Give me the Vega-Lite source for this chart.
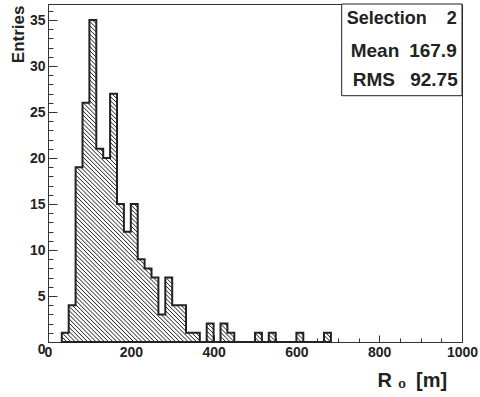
{
  "$schema": "https://vega.github.io/schema/vega-lite/v6.json",
  "autosize": {"type": "none"},
  "padding": {"left": 48, "top": 4, "right": 18, "bottom": 55},
  "width": 414,
  "height": 338,
  "background": "white",
  "config": {
    "font": "Liberation Sans",
    "view": {"stroke": "#333", "strokeWidth": 1},
    "axis": {
      "grid": false,
      "labelFont": "Liberation Sans",
      "labelFontWeight": "bold",
      "labelFontSize": 14,
      "labelColor": "#222",
      "titleFont": "Liberation Sans",
      "titleFontWeight": "bold",
      "titleColor": "#222",
      "domainColor": "#333",
      "tickColor": "#333",
      "labelOverlap": false,
      "labelBound": false
    }
  },
  "resolve": {"axis": {"x": "independent", "y": "independent"}},
  "layer": [
    {
      "data": {"values": [
        {"lo": 33.333, "n": 1}, {"lo": 50, "n": 4}, {"lo": 66.667, "n": 19}, {"lo": 83.333, "n": 26},
        {"lo": 100, "n": 35}, {"lo": 116.667, "n": 21}, {"lo": 133.333, "n": 20}, {"lo": 150, "n": 27},
        {"lo": 166.667, "n": 15}, {"lo": 183.333, "n": 12}, {"lo": 200, "n": 15}, {"lo": 216.667, "n": 9},
        {"lo": 233.333, "n": 8}, {"lo": 250, "n": 7}, {"lo": 266.667, "n": 3}, {"lo": 283.333, "n": 7},
        {"lo": 300, "n": 4}, {"lo": 316.667, "n": 4}, {"lo": 333.333, "n": 1}, {"lo": 350, "n": 1},
        {"lo": 366.667, "n": 0}, {"lo": 383.333, "n": 2}, {"lo": 400, "n": 0}, {"lo": 416.667, "n": 2},
        {"lo": 433.333, "n": 1}, {"lo": 450, "n": 0}, {"lo": 466.667, "n": 0}, {"lo": 483.333, "n": 0},
        {"lo": 500, "n": 1}, {"lo": 516.667, "n": 0}, {"lo": 533.333, "n": 1}, {"lo": 550, "n": 0},
        {"lo": 566.667, "n": 0}, {"lo": 583.333, "n": 0}, {"lo": 600, "n": 1}, {"lo": 616.667, "n": 0},
        {"lo": 633.333, "n": 0}, {"lo": 650, "n": 0}, {"lo": 666.667, "n": 1}, {"lo": 683.333, "n": 0}
      ]},
      "mark": {
        "type": "area",
        "interpolate": "step-after",
        "stroke": "#222",
        "strokeWidth": 2,
        "strokeJoin": "miter",
        "fill": {
          "gradient": "linear",
          "x1": 0, "y1": 1, "x2": 1, "y2": -0.196,
          "stops": [
            {"offset": 0, "color": "#fff"}, {"offset": 0.0016, "color": "#222"}, {"offset": 0.0032, "color": "#fff"},
            {"offset": 0.0064, "color": "#fff"}, {"offset": 0.008, "color": "#222"}, {"offset": 0.0096, "color": "#fff"},
            {"offset": 0.0128, "color": "#fff"}, {"offset": 0.0144, "color": "#222"}, {"offset": 0.016, "color": "#fff"},
            {"offset": 0.0192, "color": "#fff"}, {"offset": 0.0208, "color": "#222"}, {"offset": 0.0224, "color": "#fff"},
            {"offset": 0.0256, "color": "#fff"}, {"offset": 0.0272, "color": "#222"}, {"offset": 0.0288, "color": "#fff"},
            {"offset": 0.032, "color": "#fff"}, {"offset": 0.0336, "color": "#222"}, {"offset": 0.0352, "color": "#fff"},
            {"offset": 0.0384, "color": "#fff"}, {"offset": 0.04, "color": "#222"}, {"offset": 0.0416, "color": "#fff"},
            {"offset": 0.0448, "color": "#fff"}, {"offset": 0.0464, "color": "#222"}, {"offset": 0.048, "color": "#fff"},
            {"offset": 0.0512, "color": "#fff"}, {"offset": 0.0528, "color": "#222"}, {"offset": 0.0544, "color": "#fff"},
            {"offset": 0.0576, "color": "#fff"}, {"offset": 0.0592, "color": "#222"}, {"offset": 0.0608, "color": "#fff"},
            {"offset": 0.064, "color": "#fff"}, {"offset": 0.0656, "color": "#222"}, {"offset": 0.0672, "color": "#fff"},
            {"offset": 0.0704, "color": "#fff"}, {"offset": 0.072, "color": "#222"}, {"offset": 0.0736, "color": "#fff"},
            {"offset": 0.0768, "color": "#fff"}, {"offset": 0.0784, "color": "#222"}, {"offset": 0.08, "color": "#fff"},
            {"offset": 0.0832, "color": "#fff"}, {"offset": 0.0848, "color": "#222"}, {"offset": 0.0864, "color": "#fff"},
            {"offset": 0.0896, "color": "#fff"}, {"offset": 0.0912, "color": "#222"}, {"offset": 0.0928, "color": "#fff"},
            {"offset": 0.096, "color": "#fff"}, {"offset": 0.0976, "color": "#222"}, {"offset": 0.0992, "color": "#fff"},
            {"offset": 0.1024, "color": "#fff"}, {"offset": 0.104, "color": "#222"}, {"offset": 0.1056, "color": "#fff"},
            {"offset": 0.1088, "color": "#fff"}, {"offset": 0.1104, "color": "#222"}, {"offset": 0.112, "color": "#fff"},
            {"offset": 0.1152, "color": "#fff"}, {"offset": 0.1168, "color": "#222"}, {"offset": 0.1184, "color": "#fff"},
            {"offset": 0.1216, "color": "#fff"}, {"offset": 0.1232, "color": "#222"}, {"offset": 0.1248, "color": "#fff"},
            {"offset": 0.128, "color": "#fff"}, {"offset": 0.1296, "color": "#222"}, {"offset": 0.1312, "color": "#fff"},
            {"offset": 0.1344, "color": "#fff"}, {"offset": 0.136, "color": "#222"}, {"offset": 0.1376, "color": "#fff"},
            {"offset": 0.1408, "color": "#fff"}, {"offset": 0.1424, "color": "#222"}, {"offset": 0.144, "color": "#fff"},
            {"offset": 0.1472, "color": "#fff"}, {"offset": 0.1488, "color": "#222"}, {"offset": 0.1504, "color": "#fff"},
            {"offset": 0.1536, "color": "#fff"}, {"offset": 0.1552, "color": "#222"}, {"offset": 0.1568, "color": "#fff"},
            {"offset": 0.16, "color": "#fff"}, {"offset": 0.1616, "color": "#222"}, {"offset": 0.1632, "color": "#fff"},
            {"offset": 0.1664, "color": "#fff"}, {"offset": 0.168, "color": "#222"}, {"offset": 0.1696, "color": "#fff"},
            {"offset": 0.1728, "color": "#fff"}, {"offset": 0.1744, "color": "#222"}, {"offset": 0.176, "color": "#fff"},
            {"offset": 0.1792, "color": "#fff"}, {"offset": 0.1808, "color": "#222"}, {"offset": 0.1824, "color": "#fff"},
            {"offset": 0.1856, "color": "#fff"}, {"offset": 0.1872, "color": "#222"}, {"offset": 0.1888, "color": "#fff"},
            {"offset": 0.192, "color": "#fff"}, {"offset": 0.1936, "color": "#222"}, {"offset": 0.1952, "color": "#fff"},
            {"offset": 0.1984, "color": "#fff"}, {"offset": 0.2, "color": "#222"}, {"offset": 0.2016, "color": "#fff"},
            {"offset": 0.2048, "color": "#fff"}, {"offset": 0.2064, "color": "#222"}, {"offset": 0.208, "color": "#fff"},
            {"offset": 0.2112, "color": "#fff"}, {"offset": 0.2128, "color": "#222"}, {"offset": 0.2144, "color": "#fff"},
            {"offset": 0.2176, "color": "#fff"}, {"offset": 0.2192, "color": "#222"}, {"offset": 0.2208, "color": "#fff"},
            {"offset": 0.224, "color": "#fff"}, {"offset": 0.2256, "color": "#222"}, {"offset": 0.2272, "color": "#fff"},
            {"offset": 0.2304, "color": "#fff"}, {"offset": 0.232, "color": "#222"}, {"offset": 0.2336, "color": "#fff"},
            {"offset": 0.2368, "color": "#fff"}, {"offset": 0.2384, "color": "#222"}, {"offset": 0.24, "color": "#fff"},
            {"offset": 0.2432, "color": "#fff"}, {"offset": 0.2448, "color": "#222"}, {"offset": 0.2464, "color": "#fff"},
            {"offset": 0.2496, "color": "#fff"}, {"offset": 0.2512, "color": "#222"}, {"offset": 0.2528, "color": "#fff"},
            {"offset": 0.256, "color": "#fff"}, {"offset": 0.2576, "color": "#222"}, {"offset": 0.2592, "color": "#fff"},
            {"offset": 0.2624, "color": "#fff"}, {"offset": 0.264, "color": "#222"}, {"offset": 0.2656, "color": "#fff"},
            {"offset": 0.2688, "color": "#fff"}, {"offset": 0.2704, "color": "#222"}, {"offset": 0.272, "color": "#fff"},
            {"offset": 0.2752, "color": "#fff"}, {"offset": 0.2768, "color": "#222"}, {"offset": 0.2784, "color": "#fff"},
            {"offset": 0.2816, "color": "#fff"}, {"offset": 0.2832, "color": "#222"}, {"offset": 0.2848, "color": "#fff"},
            {"offset": 0.288, "color": "#fff"}, {"offset": 0.2896, "color": "#222"}, {"offset": 0.2912, "color": "#fff"},
            {"offset": 0.2944, "color": "#fff"}, {"offset": 0.296, "color": "#222"}, {"offset": 0.2976, "color": "#fff"},
            {"offset": 0.3008, "color": "#fff"}, {"offset": 0.3024, "color": "#222"}, {"offset": 0.304, "color": "#fff"},
            {"offset": 0.3072, "color": "#fff"}, {"offset": 0.3088, "color": "#222"}, {"offset": 0.3104, "color": "#fff"},
            {"offset": 0.3136, "color": "#fff"}, {"offset": 0.3152, "color": "#222"}, {"offset": 0.3168, "color": "#fff"},
            {"offset": 0.32, "color": "#fff"}, {"offset": 0.3216, "color": "#222"}, {"offset": 0.3232, "color": "#fff"},
            {"offset": 0.3264, "color": "#fff"}, {"offset": 0.328, "color": "#222"}, {"offset": 0.3296, "color": "#fff"},
            {"offset": 0.3328, "color": "#fff"}, {"offset": 0.3344, "color": "#222"}, {"offset": 0.336, "color": "#fff"},
            {"offset": 0.3392, "color": "#fff"}, {"offset": 0.3408, "color": "#222"}, {"offset": 0.3424, "color": "#fff"},
            {"offset": 0.3456, "color": "#fff"}, {"offset": 0.3472, "color": "#222"}, {"offset": 0.3488, "color": "#fff"},
            {"offset": 0.352, "color": "#fff"}, {"offset": 0.3536, "color": "#222"}, {"offset": 0.3552, "color": "#fff"},
            {"offset": 0.3584, "color": "#fff"}, {"offset": 0.36, "color": "#222"}, {"offset": 0.3616, "color": "#fff"},
            {"offset": 0.3648, "color": "#fff"}, {"offset": 0.3664, "color": "#222"}, {"offset": 0.368, "color": "#fff"},
            {"offset": 0.3712, "color": "#fff"}, {"offset": 0.3728, "color": "#222"}, {"offset": 0.3744, "color": "#fff"},
            {"offset": 0.3776, "color": "#fff"}, {"offset": 0.3792, "color": "#222"}, {"offset": 0.3808, "color": "#fff"},
            {"offset": 0.384, "color": "#fff"}, {"offset": 0.3856, "color": "#222"}, {"offset": 0.3872, "color": "#fff"},
            {"offset": 0.3904, "color": "#fff"}, {"offset": 0.392, "color": "#222"}, {"offset": 0.3936, "color": "#fff"},
            {"offset": 0.3968, "color": "#fff"}, {"offset": 0.3984, "color": "#222"}, {"offset": 0.4, "color": "#fff"},
            {"offset": 0.4032, "color": "#fff"}, {"offset": 0.4048, "color": "#222"}, {"offset": 0.4064, "color": "#fff"},
            {"offset": 0.4096, "color": "#fff"}, {"offset": 0.4112, "color": "#222"}, {"offset": 0.4128, "color": "#fff"},
            {"offset": 0.416, "color": "#fff"}, {"offset": 0.4176, "color": "#222"}, {"offset": 0.4192, "color": "#fff"},
            {"offset": 0.4224, "color": "#fff"}, {"offset": 0.424, "color": "#222"}, {"offset": 0.4256, "color": "#fff"},
            {"offset": 0.4288, "color": "#fff"}, {"offset": 0.4304, "color": "#222"}, {"offset": 0.432, "color": "#fff"},
            {"offset": 0.4352, "color": "#fff"}, {"offset": 0.4368, "color": "#222"}, {"offset": 0.4384, "color": "#fff"},
            {"offset": 0.4416, "color": "#fff"}, {"offset": 0.4432, "color": "#222"}, {"offset": 0.4448, "color": "#fff"},
            {"offset": 0.448, "color": "#fff"}, {"offset": 0.4496, "color": "#222"}, {"offset": 0.4512, "color": "#fff"},
            {"offset": 0.4544, "color": "#fff"}, {"offset": 0.456, "color": "#222"}, {"offset": 0.4576, "color": "#fff"},
            {"offset": 0.4608, "color": "#fff"}, {"offset": 0.4624, "color": "#222"}, {"offset": 0.464, "color": "#fff"},
            {"offset": 0.4672, "color": "#fff"}, {"offset": 0.4688, "color": "#222"}, {"offset": 0.4704, "color": "#fff"},
            {"offset": 0.4736, "color": "#fff"}, {"offset": 0.4752, "color": "#222"}, {"offset": 0.4768, "color": "#fff"},
            {"offset": 0.48, "color": "#fff"}, {"offset": 0.4816, "color": "#222"}, {"offset": 0.4832, "color": "#fff"},
            {"offset": 0.4864, "color": "#fff"}, {"offset": 0.488, "color": "#222"}, {"offset": 0.4896, "color": "#fff"},
            {"offset": 0.4928, "color": "#fff"}, {"offset": 0.4944, "color": "#222"}, {"offset": 0.496, "color": "#fff"},
            {"offset": 0.4992, "color": "#fff"}, {"offset": 0.5008, "color": "#222"}, {"offset": 0.5024, "color": "#fff"},
            {"offset": 0.5056, "color": "#fff"}, {"offset": 0.5072, "color": "#222"}, {"offset": 0.5088, "color": "#fff"},
            {"offset": 0.512, "color": "#fff"}, {"offset": 0.5136, "color": "#222"}, {"offset": 0.5152, "color": "#fff"},
            {"offset": 0.5184, "color": "#fff"}, {"offset": 0.52, "color": "#222"}, {"offset": 0.5216, "color": "#fff"},
            {"offset": 0.5248, "color": "#fff"}, {"offset": 0.5264, "color": "#222"}, {"offset": 0.528, "color": "#fff"},
            {"offset": 0.5312, "color": "#fff"}, {"offset": 0.5328, "color": "#222"}, {"offset": 0.5344, "color": "#fff"},
            {"offset": 0.5376, "color": "#fff"}, {"offset": 0.5392, "color": "#222"}, {"offset": 0.5408, "color": "#fff"},
            {"offset": 0.544, "color": "#fff"}, {"offset": 0.5456, "color": "#222"}, {"offset": 0.5472, "color": "#fff"},
            {"offset": 0.5504, "color": "#fff"}, {"offset": 0.552, "color": "#222"}, {"offset": 0.5536, "color": "#fff"},
            {"offset": 0.5568, "color": "#fff"}, {"offset": 0.5584, "color": "#222"}, {"offset": 0.56, "color": "#fff"},
            {"offset": 0.5632, "color": "#fff"}, {"offset": 0.5648, "color": "#222"}, {"offset": 0.5664, "color": "#fff"},
            {"offset": 0.5696, "color": "#fff"}, {"offset": 0.5712, "color": "#222"}, {"offset": 0.5728, "color": "#fff"}
          ]
        }
      },
      "encoding": {
        "x": {
          "field": "lo", "type": "quantitative",
          "scale": {"domain": [0, 1000], "nice": false},
          "axis": {
            "orient": "bottom",
            "values": [0, 200, 400, 600, 800, 1000],
            "format": "d",
            "tickSize": -7,
            "labelFlush": false,
            "labelPadding": 10.5,
            "title": "R\u00a0\u2080\u00a0\u2009[m]",
            "titleFontSize": 20,
            "titleX": 398.7,
            "titleY": 44.7,
            "titleAlign": "right",
            "titleBaseline": "alphabetic"
          }
        },
        "y": {
          "field": "n", "type": "quantitative",
          "scale": {"domain": [0, 36.75], "nice": false},
          "axis": {
            "orient": "left",
            "values": [0, 5, 10, 15, 20, 25, 30, 35],
            "format": "d",
            "tickSize": -9,
            "labelBaseline": {"condition": {"test": "datum.value === 0", "value": "top"}, "value": "middle"},
            "labelPadding": 12,
            "title": "Entries",
            "titleFontSize": 17,
            "titleAngle": -90,
            "titleX": -24.7,
            "titleY": 1,
            "titleAlign": "right",
            "titleBaseline": "alphabetic"
          }
        }
      }
    },
    {
      "data": {"values": [{}]},
      "mark": {"type": "rect", "fill": "white", "stroke": "#222", "strokeWidth": 1},
      "encoding": {
        "x": {"datum": 709.4, "type": "quantitative", "axis": {
          "orient": "bottom", "values": [0, 50, 100, 150, 200, 250, 300, 350, 400, 450, 500, 550, 600, 650, 700, 750, 800, 850, 900, 950, 1000],
          "tickSize": -4, "labels": false, "domain": false, "title": null}},
        "x2": {"datum": 1000},
        "y": {"datum": 26.78, "type": "quantitative", "axis": {
          "orient": "left", "values": [0, 1, 2, 3, 4, 5, 6, 7, 8, 9, 10, 11, 12, 13, 14, 15, 16, 17, 18, 19, 20, 21, 22, 23, 24, 25, 26, 27, 28, 29, 30, 31, 32, 33, 34, 35, 36],
          "tickSize": -5, "labels": false, "domain": false, "title": null}},
        "y2": {"datum": 36.75}
      }
    },
    {
      "data": {"values": [{}]},
      "mark": {"type": "text", "text": "Selection", "align": "left", "baseline": "alphabetic", "font": "Liberation Sans", "fontWeight": "bold", "fontSize": 18, "color": "#222"},
      "encoding": {"x": {"datum": 721.5, "type": "quantitative", "axis": null}, "y": {"datum": 34.58, "type": "quantitative", "axis": null}}
    },
    {
      "data": {"values": [{}]},
      "mark": {"type": "text", "text": "2", "align": "right", "baseline": "alphabetic", "font": "Liberation Sans", "fontWeight": "bold", "fontSize": 18, "color": "#222"},
      "encoding": {"x": {"datum": 987.2, "type": "quantitative", "axis": null}, "y": {"datum": 34.58, "type": "quantitative", "axis": null}}
    },
    {
      "data": {"values": [{}]},
      "mark": {"type": "text", "text": "Mean", "align": "left", "baseline": "alphabetic", "font": "Liberation Sans", "fontWeight": "bold", "fontSize": 19, "color": "#222"},
      "encoding": {"x": {"datum": 731.2, "type": "quantitative", "axis": null}, "y": {"datum": 31.02, "type": "quantitative", "axis": null}}
    },
    {
      "data": {"values": [{}]},
      "mark": {"type": "text", "text": "167.9", "align": "right", "baseline": "alphabetic", "font": "Liberation Sans", "fontWeight": "bold", "fontSize": 19, "color": "#222"},
      "encoding": {"x": {"datum": 987.2, "type": "quantitative", "axis": null}, "y": {"datum": 31.02, "type": "quantitative", "axis": null}}
    },
    {
      "data": {"values": [{}]},
      "mark": {"type": "text", "text": "RMS", "align": "left", "baseline": "alphabetic", "font": "Liberation Sans", "fontWeight": "bold", "fontSize": 19, "color": "#222"},
      "encoding": {"x": {"datum": 736, "type": "quantitative", "axis": null}, "y": {"datum": 27.84, "type": "quantitative", "axis": null}}
    },
    {
      "data": {"values": [{}]},
      "mark": {"type": "text", "text": "92.75", "align": "right", "baseline": "alphabetic", "font": "Liberation Sans", "fontWeight": "bold", "fontSize": 19, "color": "#222"},
      "encoding": {"x": {"datum": 989.6, "type": "quantitative", "axis": null}, "y": {"datum": 27.84, "type": "quantitative", "axis": null}}
    }
  ]
}
